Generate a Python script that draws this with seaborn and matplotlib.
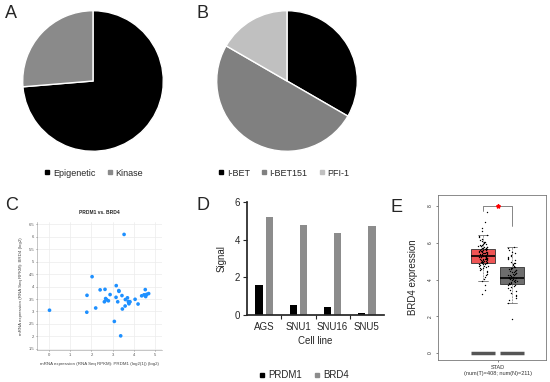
import numpy as np
import pandas as pd
import matplotlib
matplotlib.use('Agg')
import matplotlib.pyplot as plt
from matplotlib.lines import Line2D
import seaborn as sns

# pie A
a_labels = ['Epigenetic', 'Kinase']
a_counts = [14, 5]
a_colors = ['#000000', '#8a8a8a']

# pie B
b_labels = ['I-BET', 'I-BET151', 'PFI-1']
b_counts = [2, 3, 1]
b_colors = ['#000000', '#808080', '#c0c0c0']

# scatter C (log2 values)
c_prdm1 = [0.02, 1.78, 1.79, 2.03, 2.20, 2.41, 2.64, 2.61, 2.67, 2.72, 2.80, 2.88, 3.17,
           3.16, 3.24, 3.30, 3.29, 3.44, 3.54, 3.08, 3.38, 3.46, 3.59, 3.60, 3.70, 3.74,
           3.77, 3.82, 3.76, 4.06, 4.20, 4.37, 4.48, 4.56, 4.54, 4.61, 4.70, 4.56]
c_brd4 = [3.05, 2.97, 3.65, 4.40, 3.14, 3.87, 3.89, 3.39, 3.52, 3.47, 3.43, 3.68, 4.04,
          3.57, 3.39, 3.81, 3.84, 3.64, 6.10, 2.60, 2.02, 3.10, 3.22, 3.48, 3.55, 3.40,
          3.31, 3.39, 3.36, 3.49, 3.30, 3.63, 3.67, 3.65, 3.88, 3.69, 3.72, 3.60]

# bars D
d_cells = ['AGS', 'SNU1', 'SNU16', 'SNU5']
d_prdm1 = [1.6, 0.52, 0.43, 0.1]
d_brd4 = [5.2, 4.8, 4.35, 4.72]

# box E
e_tumor_box = dict(whislo=3.93, q1=4.91, med=5.29, q3=5.64, whishi=6.42)
e_normal_box = dict(whislo=2.73, q1=3.73, med=4.09, q3=4.69, whishi=5.78)
e_tumor_pts = [7.69, 7.15, 6.78, 6.65, 6.42, 6.35, 6.3, 6.22, 6.15, 6.1, 6.05, 6.0, 5.96, 5.92,
               5.88, 5.85, 5.82, 5.8, 5.77, 5.75, 5.72, 5.7, 5.68, 5.66, 5.64, 5.62, 5.6, 5.58,
               5.56, 5.54, 5.52, 5.5, 5.48, 5.46, 5.44, 5.42, 5.4, 5.38, 5.36, 5.34, 5.32, 5.3,
               5.29, 5.27, 5.25, 5.23, 5.21, 5.19, 5.17, 5.15, 5.13, 5.11, 5.09, 5.07, 5.05,
               5.02, 5.0, 4.98, 4.95, 4.92, 4.9, 4.87, 4.84, 4.8, 4.76, 4.72, 4.68, 4.63, 4.58,
               4.52, 4.46, 4.4, 4.32, 4.24, 4.15, 4.05, 3.93, 3.69, 3.42, 3.2,
               5.61, 5.57, 5.49, 5.43, 5.37, 5.33, 5.31, 5.28, 5.26, 5.22, 5.18, 5.14, 5.1,
               5.06, 5.01, 4.96, 4.93, 4.88, 4.82, 4.74, 5.67, 5.73, 5.79, 5.9, 6.02, 4.61]
e_normal_pts = [5.78, 5.7, 5.6, 5.5, 5.42, 5.35, 5.28, 5.2, 5.12, 5.05, 4.98, 4.92, 4.86, 4.8,
                4.75, 4.7, 4.66, 4.62, 4.58, 4.54, 4.5, 4.46, 4.42, 4.38, 4.34, 4.3, 4.26, 4.22,
                4.18, 4.14, 4.1, 4.07, 4.04, 4.0, 3.96, 3.92, 3.88, 3.84, 3.8, 3.76, 3.72, 3.67,
                3.6, 3.52, 3.44, 3.36, 3.27, 3.18, 3.08, 2.98, 2.86, 2.73, 1.87,
                4.64, 4.56, 4.48, 4.4, 4.32, 4.24, 4.16, 4.12, 4.08, 4.02, 3.98, 3.9, 3.82,
                3.74, 3.7, 5.15, 4.9]

sns.set_theme(style='ticks')
plt.rcParams['font.family'] = ['Liberation Sans', 'DejaVu Sans']

W, H = 550, 382
fig = plt.figure(figsize=(5.5, 3.82), dpi=100)


def rect(l, t, r, b):
    return [l / W, 1 - b / H, (r - l) / W, (b - t) / H]


def square_legend(labels, colors, x, y, fs=6.5):
    hs = [Line2D([], [], marker='s', ls='', color=c, markersize=3) for c in colors]
    fig.legend(hs, labels, loc='center', bbox_to_anchor=(x / W, 1 - y / H), ncol=len(labels),
               frameon=False, fontsize=fs, handlelength=0.5, handletextpad=0.4,
               columnspacing=1.3, borderaxespad=0)


def panel_letter(s, x, y):
    fig.text(x / W, 1 - y / H, s, fontsize=13, ha='left', va='center')


# A
ax = fig.add_axes(rect(22, 10, 164, 152))
ax.pie(a_counts, colors=a_colors, startangle=90, counterclock=False,
       wedgeprops=dict(edgecolor='white', linewidth=1))
ax.set_xlim(-1.01, 1.01)
ax.set_ylim(-1.01, 1.01)
square_legend(a_labels, a_colors, 94, 173)
panel_letter('A', 5, 14)

# B
ax = fig.add_axes(rect(216, 10, 358, 152))
ax.pie(b_counts, colors=b_colors, startangle=90, counterclock=False,
       wedgeprops=dict(edgecolor='white', linewidth=1))
ax.set_xlim(-1.01, 1.01)
ax.set_ylim(-1.01, 1.01)
square_legend(b_labels, b_colors, 284, 173)
panel_letter('B', 196, 14)

# C
ax = fig.add_axes(rect(37, 222, 162, 350))
sns.scatterplot(x=c_prdm1, y=c_brd4, ax=ax, color='#1e90ff', s=7, edgecolor='none')
ax.set_xlim(-0.57, 5.33)
ax.set_ylim(1.45, 6.6)
ax.set_xticks(range(0, 6))
ax.set_yticks(np.arange(1.5, 6.6, 0.5))
ax.set_yticklabels(['1.5', '2', '2.5', '3', '3.5', '4', '4.5', '5', '5.5', '6', '6.5'])
ax.grid(True, color='#ececec', lw=0.5)
ax.tick_params(labelsize=3, length=1, width=0.4, pad=1, colors='#555555')
for s in ['top', 'right']:
    ax.spines[s].set_visible(False)
for s in ['left', 'bottom']:
    ax.spines[s].set_color('#999999')
    ax.spines[s].set_linewidth(0.4)
ax.set_title('PRDM1 vs. BRD4', fontsize=3.5, fontweight='bold', pad=6)
ax.set_xlabel('mRNA expression (RNA Seq RPKM): PRDM1 (log2(1)) (log2)', fontsize=3.2,
              color='#444444', labelpad=4)
ax.set_ylabel('mRNA expression (RNA Seq RPKM): BRD4 (log2)', fontsize=3.2,
              color='#444444', labelpad=4)
panel_letter('C', 5, 206)

# D
ax = fig.add_axes(rect(247, 202, 384, 315))
dd = pd.DataFrame({'cell': d_cells * 2,
                   'signal': d_prdm1 + d_brd4,
                   'gene': ['PRDM1'] * 4 + ['BRD4'] * 4})
sns.barplot(data=dd, x='cell', y='signal', hue='gene', ax=ax, width=0.6, gap=0.28,
            palette=['#000000', '#8c8c8c'], saturation=1, legend=False,
            edgecolor='none', linewidth=0)
ax.set_xlim(-0.5, 3.5)
ax.set_ylim(0, 6)
ax.set_yticks([0, 2, 4, 6])
ax.set_xticks([0.5, 1.5, 2.5], minor=True)
ax.tick_params(axis='x', which='major', length=0, labelsize=7, pad=5)
ax.tick_params(axis='x', which='minor', length=3, width=0.8)
ax.tick_params(axis='y', labelsize=7, length=3, width=0.8, pad=2)
for s in ['top', 'right']:
    ax.spines[s].set_visible(False)
ax.set_xlabel('Cell line', fontsize=7, labelpad=3)
ax.set_ylabel('Signal', fontsize=7, labelpad=6)
square_legend(['PRDM1', 'BRD4'], ['#000000', '#8c8c8c'], 304, 375, fs=7)
panel_letter('D', 196, 206)

# E
ax = fig.add_axes(rect(438, 195, 546, 360))
ee = pd.DataFrame({'grp': ['T'] * len(e_tumor_pts) + ['N'] * len(e_normal_pts),
                   'val': e_tumor_pts + e_normal_pts})
ax.bxp([e_tumor_box, e_normal_box], positions=[0, 1], widths=0.83, patch_artist=True,
       showfliers=False,
       boxprops=dict(lw=0.6, edgecolor='#333333'),
       medianprops=dict(color='black', lw=1.2),
       whiskerprops=dict(lw=0.4, ls='--', color='#555555'),
       capprops=dict(lw=0.5, color='#555555'), capwidths=0.35, zorder=1)
ax.patches[0].set_facecolor('#ef5555')
ax.patches[1].set_facecolor('#6e6e6e')
sns.stripplot(data=ee, x='grp', y='val', order=['T', 'N'], ax=ax, color='black', size=1.0,
              jitter=0.16, zorder=3)
ax.hlines([0, 0], [-0.415, 0.585], [0.415, 1.415], color='#555555', lw=2.5)
ax.plot([0, 0, 1, 1], [7.75, 8.0, 8.0, 6.9], color='#555555', lw=0.5)
ax.plot([0.5], [8.0], marker='*', color='red', markersize=3)
ax.set_xlim(-1.55, 2.17)
ax.set_ylim(-0.38, 8.6)
ax.set_xticks([0.5])
ax.set_xticklabels(['STAD\n(num(T)=408; num(N)=211)'], fontsize=4, color='#333333')
ax.set_yticks([0, 2, 4, 6, 8])
ax.set_yticklabels(['0', '2', '4', '6', '8'], rotation=90, va='center', fontsize=3.5)
ax.tick_params(length=1.5, width=0.4, pad=2)
for s in ax.spines.values():
    s.set_color('#777777')
    s.set_linewidth(0.6)
ax.set_xlabel('')
ax.set_ylabel('BRD4 expression', fontsize=7, labelpad=7)
panel_letter('E', 391, 208)

fig.savefig('out.png', dpi=100)
